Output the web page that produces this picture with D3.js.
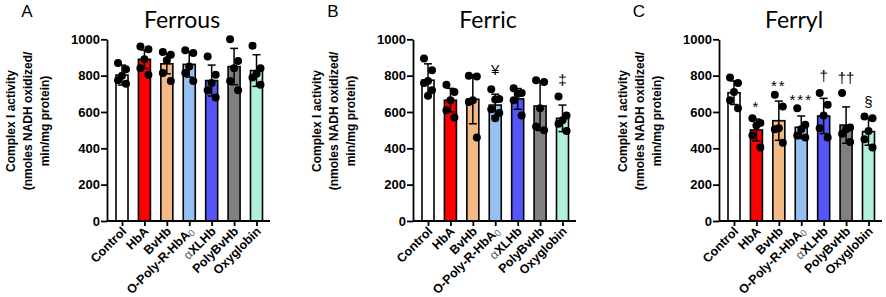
<!DOCTYPE html>
<meta charset="utf-8">
<style>
  body { margin: 0; background: #fff; }
  svg { display: block; }
  text { font-family: 'Liberation Sans', Arial, sans-serif; }
</style>
<svg width="886" height="297"></svg>
<script src="https://d3js.org/d3.v7.min.js"></script>
<script>
// groups on the x axis
var categories = ["Control", "HbA", "BvHb", "O-Poly-R-HbA0", "αXLHb", "PolyBvHb", "Oxyglobin"];
var colors = ["#ffffff", "#ff0000", "#f2b886", "#94c1f2", "#5656f8", "#808080", "#b1f0da"];
var yTicks = [0, 200, 400, 600, 800, 1000];

var titles = ["Ferrous", "Ferric", "Ferryl"];
var letters = ["A", "B", "C"];

// ferrous
var ferrousMean = [803, 890, 865, 862, 773, 850, 828];
var ferrousSD = [55, 51, 55, 70, 85, 100, 87];
var ferrousPoints = [
  [870, 835, 800, 775, 755],
  [960, 945, 890, 840, 805],
  [930, 915, 885, 815, 770],
  [940, 925, 850, 815, 770],
  [905, 805, 760, 720, 680],
  [1000, 880, 840, 770, 720],
  [965, 840, 810, 790, 750]
];
var ferrousMarks = ["", "", "", "", "", "", ""];
var ferrousMarkY = [0, 0, 0, 0, 0, 0, 0];

// ferric
var ferricMean = [775, 665, 670, 638, 672, 633, 565];
var ferricSD = [90, 65, 135, 60, 57, 135, 73];
var ferricPoints = [
  [895, 830, 770, 760, 720, 690],
  [750, 710, 665, 610, 570],
  [800, 795, 665, 655, 460],
  [725, 672, 668, 615, 595, 565],
  [730, 705, 700, 665, 580],
  [775, 765, 620, 520, 500],
  [685, 580, 555, 535, 495]
];
var ferricMarks = ["", "", "", "¥", "", "", "‡"];
var ferricMarkY = [0, 0, 0, 831, 0, 0, 780];

// ferryl
var ferrylMean = [706, 501, 552, 516, 578, 528, 492];
var ferrylSD = [65, 60, 108, 62, 97, 100, 75];
var ferrylPoints = [
  [790, 760, 710, 665, 620],
  [565, 540, 525, 470, 405],
  [695, 630, 510, 505, 430],
  [620, 530, 505, 470, 460],
  [705, 640, 580, 510, 460],
  [705, 515, 505, 480, 435],
  [575, 565, 495, 450, 405]
];
var ferrylMarks = ["", "*", "**", "***", "†", "††", "§"];
var ferrylMarkY = [0, 650, 765, 688, 798, 787, 657];

var panels = [
  {mean: ferrousMean, sd: ferrousSD, pts: ferrousPoints, marks: ferrousMarks, markY: ferrousMarkY},
  {mean: ferricMean, sd: ferricSD, pts: ferricPoints, marks: ferricMarks, markY: ferricMarkY},
  {mean: ferrylMean, sd: ferrylSD, pts: ferrylPoints, marks: ferrylMarks, markY: ferrylMarkY}
];

var svg = d3.select("svg");
var axisLeftX = [107, 413, 719];
var plotW = 163;
var jitter = [-4, 4, 0, -4, 4, 0];

var y = d3.scaleLinear().domain([0, 1000]).range([221, 39.3]);
var x = d3.scalePoint().domain(categories).range([15, 149.5]);

panels.forEach(function(p, pi) {
  var g = svg.append("g").attr("transform", "translate(" + axisLeftX[pi] + ",0)");

  // panel letter + title
  g.append("text")
      .attr("x", -80).attr("y", 17)
      .attr("text-anchor", "middle")
      .style("font-size", "17px")
      .text(letters[pi]);

  g.append("text")
      .attr("x", 75).attr("y", 28)
      .attr("text-anchor", "middle")
      .style("font-family", "Lato, 'Open Sans', sans-serif")
      .style("font-size", "23px")
      .text(titles[pi]);

  // y axis title
  var yt = g.append("g").attr("transform", "translate(-96,121) rotate(-90)");
  ["Complex I activity", "(nmoles NADH oxidized/", "min/mg protein)"].forEach(function(s, i) {
    yt.append("text")
        .attr("y", i * 17)
        .attr("dy", "0.35em")
        .attr("text-anchor", "middle")
        .style("font-size", "12px")
        .style("font-weight", "bold")
        .text(s);
  });

  // bars
  g.selectAll(".bar")
    .data(categories)
    .enter().append("rect")
      .attr("x", function(d) { return x(d) - 6; })
      .attr("width", 12)
      .attr("y", function(d, i) { return y(p.mean[i]); })
      .attr("height", function(d, i) { return y(0) - y(p.mean[i]); })
      .attr("fill", function(d, i) { return colors[i]; })
      .attr("stroke", "#000")
      .attr("stroke-width", 1.6);

  // error bars
  categories.forEach(function(c, i) {
    var cx = x(c), lo = y(p.mean[i] - p.sd[i]), hi = y(p.mean[i] + p.sd[i]);
    var eg = g.append("g").attr("stroke", "#000").attr("stroke-width", 1.5);
    eg.append("line").attr("x1", cx).attr("x2", cx).attr("y1", lo).attr("y2", hi);
    eg.append("line").attr("x1", cx - 4).attr("x2", cx + 4).attr("y1", lo).attr("y2", lo);
    eg.append("line").attr("x1", cx - 4).attr("x2", cx + 4).attr("y1", hi).attr("y2", hi);
  });

  // dots
  categories.forEach(function(c, i) {
    g.selectAll(".dot" + i)
      .data(p.pts[i])
      .enter().append("circle")
        .attr("cx", function(d, j) { return x(c) + jitter[j % jitter.length]; })
        .attr("cy", function(d) { return y(d); })
        .attr("r", 4)
        .attr("fill", "#000");
  });

  // significance marks
  categories.forEach(function(c, i) {
    if (!p.marks[i]) return;
    var star = p.marks[i].indexOf("*") >= 0;
    g.append("text")
        .attr("x", x(c))
        .attr("y", y(p.markY[i]))
        .attr("dy", star ? "0.6em" : "0.35em")
        .attr("text-anchor", "middle")
        .attr("fill", "#000")
        .style("font-size", "15px")
        .style("letter-spacing", star ? "2px" : "0px")
        .text(p.marks[i]);
  });

  // y axis
  var ya = g.append("g")
      .call(d3.axisLeft(y).tickValues(yTicks).tickFormat(d3.format("d"))
        .tickSize(6).tickPadding(1).tickSizeOuter(0));
  ya.select(".domain").attr("stroke-width", 1.8);
  ya.selectAll(".tick line").attr("stroke-width", 1.8);
  ya.selectAll(".tick text")
      .style("font-size", "13px")
      .style("font-weight", "bold")
      .style("font-family", "'Liberation Sans', Arial, sans-serif");

  // x axis
  var xa = g.append("g").attr("transform", "translate(0," + y(0) + ")")
      .call(d3.axisBottom(x).tickSize(5).tickSizeOuter(0));
  xa.select(".domain").remove();
  xa.selectAll(".tick text").remove();
  xa.selectAll(".tick line").attr("stroke-width", 1.8);
  xa.append("line")
      .attr("x1", 0).attr("x2", plotW)
      .attr("stroke", "#000").attr("stroke-width", 1.8);

  categories.forEach(function(c) {
    var t = g.append("text")
        .attr("transform", "translate(" + (x(c) + 2) + "," + (y(0) + 8) + ") rotate(-45)")
        .attr("text-anchor", "end")
        .attr("dy", "0.35em")
        .style("font-size", "12.5px")
        .style("font-weight", "bold");
    if (c === "O-Poly-R-HbA0") {
      t.append("tspan").text("O-Poly-R-HbA");
      t.append("tspan").attr("dy", "0.2em").style("font-size", "9.5px")
          .style("font-weight", "normal").attr("fill", "#666").text("0");
    } else if (c === "αXLHb") {
      t.append("tspan").style("font-weight", "normal").attr("fill", "#555").text("α");
      t.append("tspan").text("XLHb");
    } else {
      t.text(c);
    }
  });
});
</script>
